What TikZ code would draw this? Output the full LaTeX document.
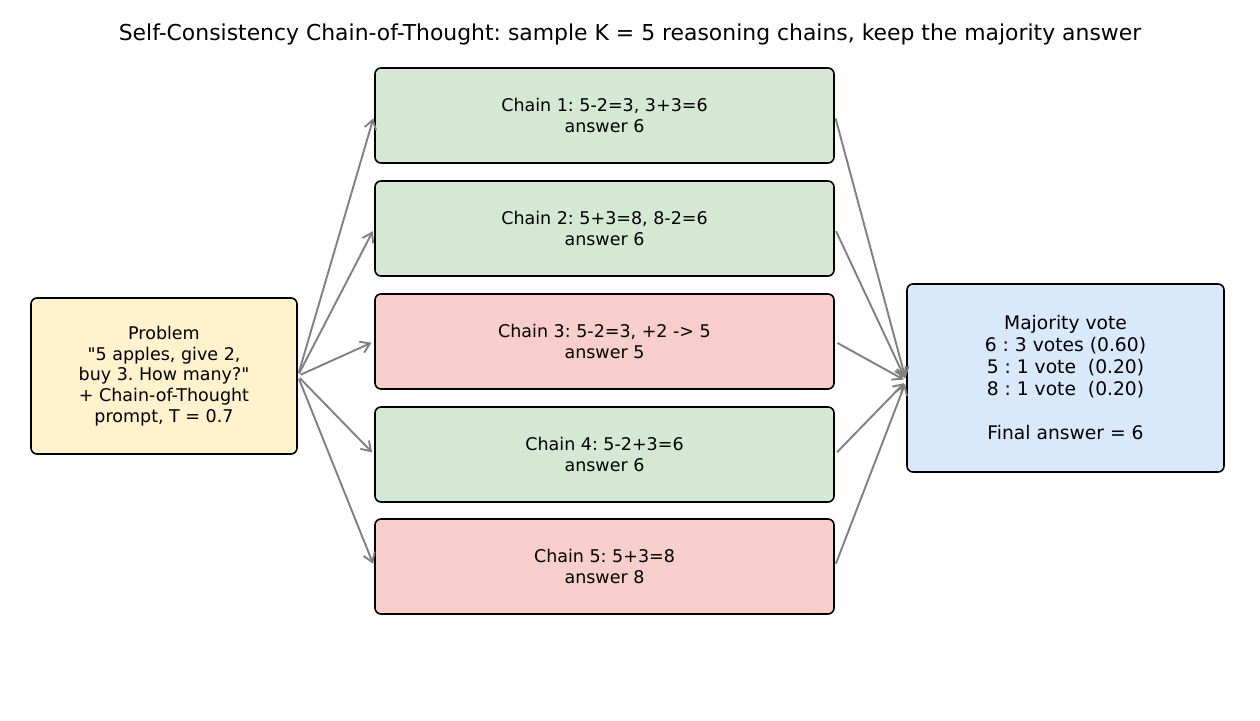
\documentclass[tikz,border=0pt]{standalone}
\usepackage{fontspec}
\setmainfont{DejaVu Sans}[Ligatures=TeXOff]
\usetikzlibrary{arrows.meta}
\definecolor{cgreen}{HTML}{D5E8D4}
\definecolor{cred}{HTML}{F8CECC}
\definecolor{cyellow}{HTML}{FFF2CC}
\definecolor{cblue}{HTML}{DAE8FC}
\definecolor{cgray}{HTML}{808080}
\tikzset{
  box/.style={draw=black, line width=1.6pt, rounded corners=6pt, align=center, inner sep=0pt, anchor=center},
  chainbox/.style={box, minimum width=459pt, minimum height=95pt, font=\fontsize{17.5}{21}\selectfont},
  arr/.style={draw=cgray, line width=1.9pt, -{Straight Barb[length=9pt,width=12pt,line width=1.9pt]}, shorten <=3pt, shorten >=3pt},
}
\begin{document}
\frenchspacing
\begin{tikzpicture}[x=1pt,y=-1pt]
\useasboundingbox[fill=white] (0,0) rectangle (1260,720);
\node[font=\fontsize{21.9}{26}\selectfont] (title) at (630,34) {Self-Consistency Chain-of-Thought: sample K = 5 reasoning chains, keep the majority answer};
\node[box, fill=cyellow, minimum width=266pt, minimum height=156pt, font=\fontsize{17.5}{20.8}\selectfont] (prob) at (164,376)
  {Problem\\"5 apples, give 2,\\buy 3. How many?"\\+ Chain-of-Thought\\prompt, T = 0.7};
\node[chainbox, fill=cgreen] (c1) at (604.5,115.5) {Chain 1: 5-2=3, 3+3=6\\answer 6};
\node[chainbox, fill=cgreen] (c2) at (604.5,228.5) {Chain 2: 5+3=8, 8-2=6\\answer 6};
\node[chainbox, fill=cred] (c3) at (604.5,341.5) {Chain 3: 5-2=3, +2 -> 5\\answer 5};
\node[chainbox, fill=cgreen] (c4) at (604.5,454.5) {Chain 4: 5-2+3=6\\answer 6};
\node[chainbox, fill=cred] (c5) at (604.5,566.5) {Chain 5: 5+3=8\\answer 8};
\node[box, fill=cblue, minimum width=317pt, minimum height=188pt, font=\fontsize{18.7}{22}\selectfont] (maj) at (1065.5,378)
  {Majority vote\\6 : 3 votes (0.60)\\5 : 1 vote\ \ (0.20)\\8 : 1 vote\ \ (0.20)\\[22pt]Final answer = 6};
\foreach \c in {c1,c2,c3,c4,c5} {
  \draw[arr] (prob.east) -- (\c.west);
  \draw[arr] (\c.east) -- ([yshift=-3pt]maj.west);
}
\end{tikzpicture}
\end{document}
